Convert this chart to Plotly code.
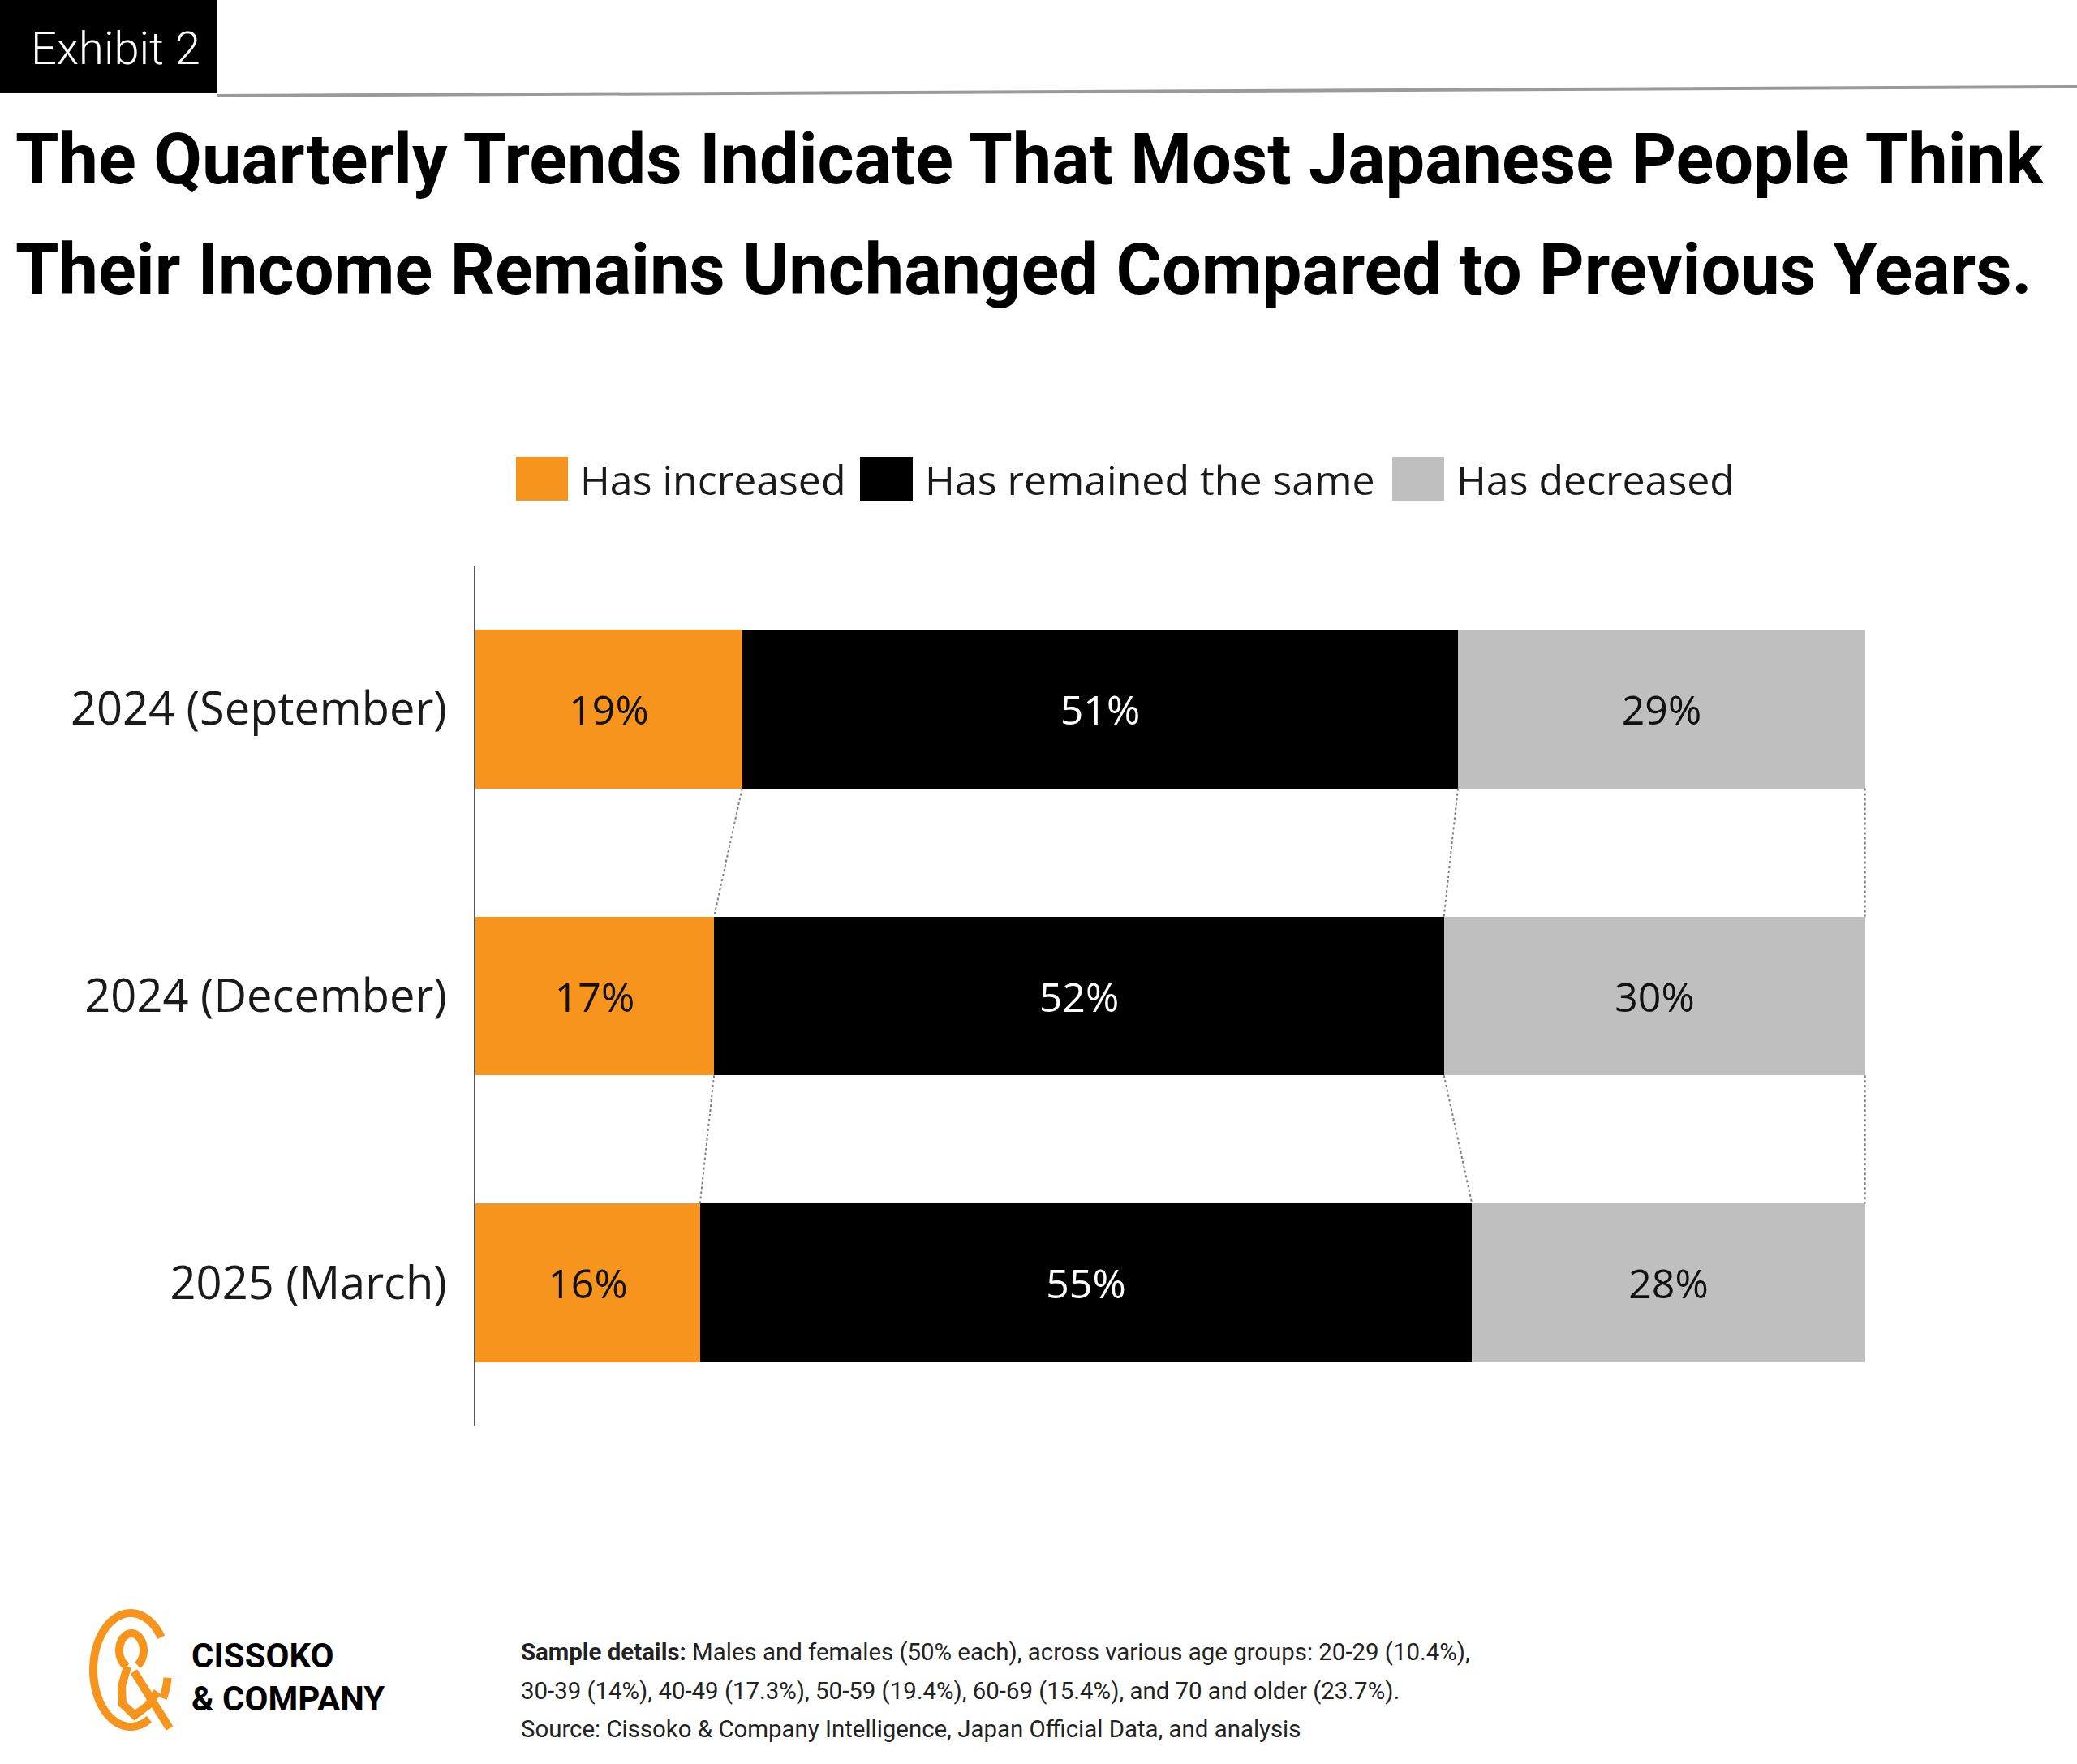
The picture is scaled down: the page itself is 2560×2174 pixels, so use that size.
import numpy as np
import plotly.graph_objects as go

# ---------------- data ----------------
periods = ["2024 (September)", "2024 (December)", "2025 (March)"]
increased = [19, 17, 16]
same = [51, 52, 55]
decreased = [29, 30, 28]
series_names = ["Has increased", "Has remained the same", "Has decreased"]
title_lines = ["The Quarterly Trends Indicate That Most Japanese People Think",
               "Their Income Remains Unchanged Compared to Previous Years."]
footer_lines = ["<b>Sample details:</b> Males and females (50% each), across various age groups: 20-29 (10.4%),",
                "30-39 (14%), 40-49 (17.3%), 50-59 (19.4%), 60-69 (15.4%), and 70 and older (23.7%).",
                "Source: Cissoko &amp; Company Intelligence, Japan Official Data, and analysis"]

# ---------------- styles / layout ----------------
W, H = 2560, 2174
PL, PR, PT, PB = 586, 2316, 697, 1758
ORANGE, BLACK, GREY = "#F7941D", "#000000", "#BFBFBF"
colors = [ORANGE, BLACK, GREY]
text_colors = ["#111111", "#FFFFFF", "#111111"]
BAR_W = 0.553
MAIN_FONT = "Open Sans"
NARROW = "Roboto"


def px(x):
    return (x - PL) / (PR - PL)


def py(y):
    return (PB - y) / (PB - PT)


ypos = np.arange(len(periods))
fig = go.Figure()

for name, vals, col, tcol in zip(series_names, [increased, same, decreased], colors, text_colors):
    fig.add_trace(go.Bar(
        y=ypos, x=vals, name=name, orientation="h", width=BAR_W,
        marker=dict(color=col, line=dict(width=0)),
        text=[f"{v}%" for v in vals], textposition="inside",
        insidetextanchor="middle", textangle=0,
        textfont=dict(family=MAIN_FONT, size=50, color=tcol),
        showlegend=False, hoverinfo="skip",
    ))

# dotted connectors between consecutive bars at cumulative boundaries
cum = np.cumsum(np.array([increased, same, decreased]), axis=0)  # shape (3 series, n periods)
cx, cy = [], []
for k in range(cum.shape[0]):
    for i in range(len(periods) - 1):
        cx += [cum[k, i], cum[k, i + 1], None]
        cy += [ypos[i] + BAR_W / 2, ypos[i + 1] - BAR_W / 2, None]
fig.add_trace(go.Scatter(x=cx, y=cy, mode="lines",
                         line=dict(color="#7F7F7F", width=2, dash="dot"),
                         showlegend=False, hoverinfo="skip"))

shapes = []
annotations = []

# header box and rule
shapes.append(dict(type="rect", xref="paper", yref="paper",
                   x0=px(0), x1=px(268), y0=py(0), y1=py(115),
                   fillcolor="#000000", line=dict(width=0), layer="above"))
shapes.append(dict(type="line", xref="paper", yref="paper",
                   x0=px(268), y0=py(118), x1=px(2560), y1=py(107),
                   line=dict(color="#9A9A9A", width=4)))
annotations.append(dict(text="Exhibit 2", x=px(142), y=py(60), xref="paper", yref="paper",
                        xanchor="center", yanchor="middle", showarrow=False,
                        font=dict(family=NARROW, size=56, color="#FFFFFF", weight=300)))

# title
for line, yc in zip(title_lines, [196, 332]):
    annotations.append(dict(text=f"<b>{line}</b>", x=px(17), y=py(yc), xref="paper", yref="paper",
                            xanchor="left", yanchor="middle", showarrow=False,
                            font=dict(family=NARROW, size=86.5, color="#000000")))

# custom legend
leg_rects = [(636, 700), (1060, 1125), (1716, 1780)]
leg_text_x = [713, 1138, 1793]
for (x0, x1), tx, col, name in zip(leg_rects, leg_text_x, colors, series_names):
    shapes.append(dict(type="rect", xref="paper", yref="paper",
                       x0=px(x0), x1=px(x1), y0=py(563), y1=py(617),
                       fillcolor=col, line=dict(width=0)))
    annotations.append(dict(text=name, x=px(tx), y=py(591), xref="paper", yref="paper",
                            xanchor="left", yanchor="middle", showarrow=False,
                            font=dict(family=MAIN_FONT, size=50, color="#1a1a1a")))

# footer text
for line, yc in zip(footer_lines, [2036, 2084, 2131]):
    annotations.append(dict(text=line, x=px(640), y=py(yc),
                            xref="paper", yref="paper", xanchor="left", yanchor="middle",
                            align="left", showarrow=False,
                            font=dict(family=NARROW, size=29.4, color="#222222")))

# logo
annotations.append(dict(text="<b>CISSOKO</b>", x=px(234), y=py(2040), xref="paper", yref="paper",
                        xanchor="left", yanchor="middle", showarrow=False,
                        font=dict(family=NARROW, size=42, color="#000000")))
annotations.append(dict(text="<b>&amp; COMPANY</b>", x=px(234), y=py(2093), xref="paper", yref="paper",
                        xanchor="left", yanchor="middle", showarrow=False,
                        font=dict(family=NARROW, size=42, color="#000000")))


def arc_path(cx_, cy_, rx, ry, a0, a1, n=60):
    t = np.radians(np.linspace(a0, a1, n))
    xs = cx_ + rx * np.cos(t)
    ys = cy_ - ry * np.sin(t)
    pts = [f"{px(x):.5f},{py(y):.5f}" for x, y in zip(xs, ys)]
    return "M" + " L".join(pts)


LOGO_LINE = dict(color=ORANGE, width=10)
shapes.append(dict(type="path", xref="paper", yref="paper",
                   path=arc_path(161, 2058, 46, 70, 35, 300), line=LOGO_LINE))
shapes.append(dict(type="path", xref="paper", yref="paper",
                   path=arc_path(161, 2058, 46, 70, -8, -30, 10), line=LOGO_LINE))
shapes.append(dict(type="path", xref="paper", yref="paper",
                   path=arc_path(162, 2034, 15, 21, -60, 250), line=LOGO_LINE))
amp_pts = [(157, 2054), (150, 2078), (151, 2100), (166, 2114), (182, 2102), (194, 2085)]
shapes.append(dict(type="path", xref="paper", yref="paper",
                   path="M" + " L".join(f"{px(x):.5f},{py(y):.5f}" for x, y in amp_pts), line=LOGO_LINE))
shapes.append(dict(type="line", xref="paper", yref="paper",
                   x0=px(165), y0=py(2060), x1=px(209), y1=py(2130), line=LOGO_LINE))

fig.update_layout(
    width=W, height=H,
    margin=dict(l=PL, r=W - PR, t=PT, b=H - PB, pad=0),
    paper_bgcolor="#FFFFFF", plot_bgcolor="#FFFFFF",
    barmode="stack", bargap=0,
    showlegend=False,
    shapes=shapes, annotations=annotations,
    xaxis=dict(range=[0, 100], visible=False, fixedrange=True),
    yaxis=dict(range=[len(periods) - 0.5, -0.5], tickvals=list(ypos), ticktext=periods,
               showgrid=False, zeroline=False, showline=True, linecolor="#555555", linewidth=2,
               ticks="outside", ticklen=22, tickcolor="rgba(0,0,0,0)",
               tickfont=dict(family=MAIN_FONT, size=56, color="#1a1a1a"), fixedrange=True),
)

fig.write_html("out.html")
